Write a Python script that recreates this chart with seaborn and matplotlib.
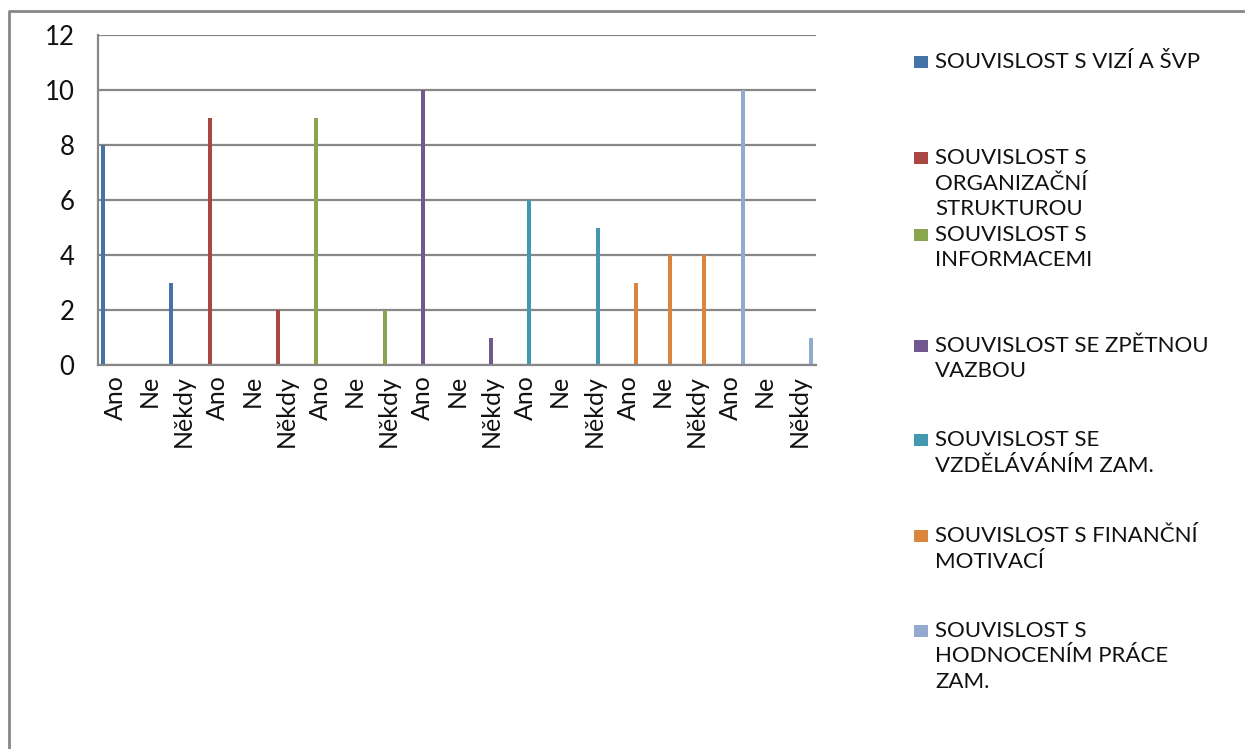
import matplotlib
matplotlib.use("Agg")
import matplotlib.pyplot as plt
from matplotlib.patches import Rectangle
from matplotlib.lines import Line2D
import pandas as pd
import seaborn as sns

# Survey answers per topic (counts of respondents)
answers = ["Ano", "Ne", "Někdy"]
series = [
    "SOUVISLOST S VIZÍ A ŠVP",
    "SOUVISLOST S ORGANIZAČNÍ STRUKTUROU",
    "SOUVISLOST S INFORMACEMI",
    "SOUVISLOST SE ZPĚTNOU VAZBOU",
    "SOUVISLOST SE VZDĚLÁVÁNÍM ZAM.",
    "SOUVISLOST S FINANČNÍ MOTIVACÍ",
    "SOUVISLOST S HODNOCENÍM PRÁCE ZAM.",
]
vize_svp = [8, 0, 3]
organizacni_struktura = [9, 0, 2]
informace = [9, 0, 2]
zpetna_vazba = [10, 0, 1]
vzdelavani = [6, 0, 5]
financni_motivace = [3, 4, 4]
hodnoceni_prace = [10, 0, 1]

# Legend text as it wraps beside the plot
legend_lines = [
    ["SOUVISLOST S VIZÍ A ŠVP"],
    ["SOUVISLOST S", "ORGANIZAČNÍ", "STRUKTUROU"],
    ["SOUVISLOST S", "INFORMACEMI"],
    ["SOUVISLOST SE ZPĚTNOU", "VAZBOU"],
    ["SOUVISLOST SE", "VZDĚLÁVÁNÍM ZAM."],
    ["SOUVISLOST S FINANČNÍ", "MOTIVACÍ"],
    ["SOUVISLOST S", "HODNOCENÍM PRÁCE", "ZAM."],
]

colors = ["#4572A7", "#AA4643", "#89A54E", "#71588F", "#4198AF", "#DB843D", "#93A9CF"]

values = [vize_svp, organizacni_struktura, informace, zpetna_vazba,
          vzdelavani, financni_motivace, hodnoceni_prace]

rows = []
order = []
for gi, (name, vals) in enumerate(zip(series, values)):
    for ai, (ans, v) in enumerate(zip(answers, vals)):
        key = f"{gi}-{ans}"
        order.append(key)
        rows.append({"slot": key, "serie": name, "pocet": v})
df = pd.DataFrame(rows)
tick_labels = [k.split("-", 1)[1] for k in order]

sns.set_style("white")
plt.rcParams["font.family"] = ["Lato", "DejaVu Sans"]

W, H = 1245, 749
fig = plt.figure(figsize=(W / 100, H / 100), dpi=100)
ax = fig.add_axes([98 / W, 1 - 365 / H, (816 - 98) / W, (365 - 35) / H])

sns.barplot(data=df, x="slot", y="pocet", hue="serie", order=order,
            hue_order=series, palette=colors, saturation=1,
            width=7 / 8.5, gap=0, dodge=True, legend=False,
            linewidth=0, ax=ax)

grid_c = "#878787"
text_c = "#111111"
ax.set_xlim(-0.5, len(order) - 0.5)
ax.set_ylim(0, 12)
ax.set_yticks(range(0, 13, 2))
ax.yaxis.grid(True, color=grid_c, linewidth=1.6)
ax.set_axisbelow(True)
ax.set_xlabel("")
ax.set_ylabel("")

# category boundary ticks and centred labels
ax.set_xticks([i - 0.5 for i in range(len(order) + 1)])
ax.set_xticklabels([])
ax.set_xticks(range(len(order)), minor=True)
ax.set_xticklabels(tick_labels, minor=True, rotation=90, fontsize=18,
                   va="top", ha="center")
ax.tick_params(axis="x", which="major", length=7, width=1.6, color=grid_c,
               direction="out")
ax.tick_params(axis="x", which="minor", length=0, pad=7)
ax.tick_params(axis="y", length=7, width=1.6, color=grid_c, direction="out",
               labelsize=18.5, pad=10)
for lab in ax.get_xticklabels(minor=True) + ax.get_yticklabels():
    lab.set_color(text_c)

for side in ["top", "right"]:
    ax.spines[side].set_visible(False)
for side in ["left", "bottom"]:
    ax.spines[side].set_color(grid_c)
    ax.spines[side].set_linewidth(1.6)

# outer chart frame
fig.add_artist(Line2D([8.5 / W, 8.5 / W, 1.0], [0.0, 1 - 11 / H, 1 - 11 / H],
                      transform=fig.transFigure, color=grid_c, linewidth=2))

# legend beside the plot
first_line_y = [62, 158, 235, 346, 440, 536, 631]
line_step = 25.5
for color, lines, y0 in zip(colors, legend_lines, first_line_y):
    fig.add_artist(Rectangle((914 / W, 1 - (y0 + 6) / H), 14 / W, 12 / H,
                             transform=fig.transFigure, facecolor=color,
                             edgecolor="none"))
    for li, txt in enumerate(lines):
        fig.text(935 / W, 1 - (y0 + li * line_step) / H, txt, fontsize=16,
                 va="center", ha="left", color=text_c)

fig.savefig("out.png", dpi=100, facecolor="white")
